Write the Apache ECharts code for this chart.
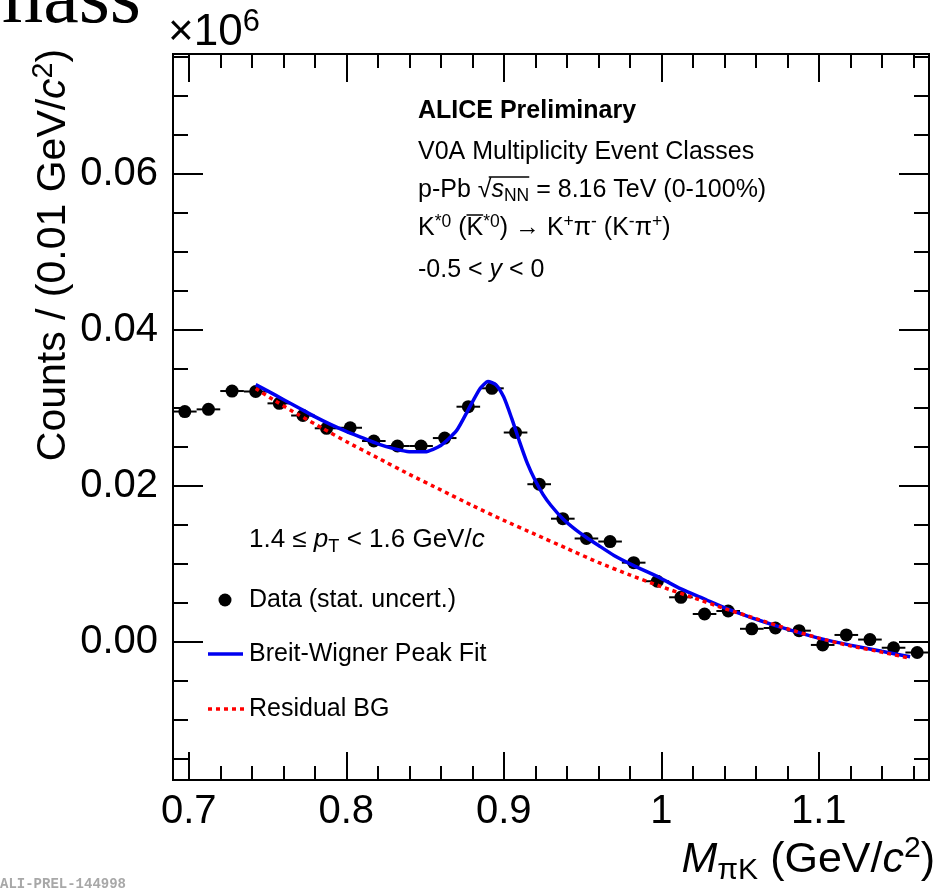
<!DOCTYPE html>
<html><head><meta charset="utf-8">
<script src="https://cdn.jsdelivr.net/npm/echarts@6/dist/echarts.min.js"></script>
<style>html,body{margin:0;padding:0;background:#fff}#c{width:941px;height:890px}</style>
</head><body><div id="c"></div>
<script>
// ---------------- data ----------------
const massCenters = [0.6975, 0.7125, 0.7275, 0.7425, 0.7575, 0.7725, 0.7875, 0.8025, 0.8175, 0.8325,
  0.8475, 0.8625, 0.8775, 0.8925, 0.9075, 0.9225, 0.9375, 0.9525, 0.9675, 0.9825,
  0.9975, 1.0125, 1.0275, 1.0425, 1.0575, 1.0725, 1.0875, 1.1025, 1.1175, 1.1325,
  1.1475, 1.1625];
const counts = [0.02955, 0.02983, 0.03218, 0.03212, 0.03060, 0.02904, 0.02740, 0.02747, 0.02577, 0.02513,
  0.02513, 0.02615, 0.03017, 0.03253, 0.02686, 0.02023, 0.01581, 0.01327, 0.01288, 0.01017,
  0.00779, 0.00573, 0.00359, 0.00397, 0.00169, 0.00179, 0.00145, -0.00038, 0.00090, 0.00031,
  -0.00074, -0.00135];
const binHalfWidth = 0.0075;

const fitMass = [0.7425, 0.750, 0.760, 0.770, 0.780, 0.790, 0.800, 0.810, 0.820, 0.830,
  0.840, 0.850, 0.860, 0.870, 0.8775, 0.885, 0.890, 0.895, 0.900, 0.905,
  0.910, 0.915, 0.920, 0.925, 0.930, 0.9375, 0.945, 0.9525, 0.960, 0.970,
  0.9825, 0.9975, 1.0125, 1.0275, 1.0425, 1.0575, 1.0725, 1.0875, 1.100, 1.120,
  1.140, 1.158];
const fitCounts = [0.0330, 0.0322, 0.0311, 0.0300, 0.0289, 0.0279, 0.0270, 0.0262, 0.0254, 0.0248,
  0.0244, 0.0244, 0.0252, 0.0271, 0.0298, 0.0325, 0.0334, 0.0330, 0.0314, 0.0287,
  0.0257, 0.0229, 0.0207, 0.0189, 0.0175, 0.0158, 0.0145, 0.0134, 0.0124, 0.0111,
  0.0098, 0.0084, 0.0068, 0.0055, 0.0042, 0.0031, 0.0021, 0.0012, 0.0005, -0.0004,
  -0.0012, -0.0019];

const bgMass = [0.7425, 0.755, 0.770, 0.785, 0.800, 0.820, 0.840, 0.860, 0.880, 0.900,
  0.920, 0.940, 0.960, 0.980, 1.000, 1.020, 1.040, 1.060, 1.080, 1.100,
  1.120, 1.140, 1.158];
const bgCounts = [0.0325, 0.0309, 0.0291, 0.0274, 0.0257, 0.0236, 0.0215, 0.0195, 0.0175, 0.0156,
  0.0138, 0.0120, 0.0102, 0.0086, 0.0071, 0.0057, 0.0043, 0.0030, 0.0017, 0.0005,
  -0.0005, -0.0013, -0.0021];

const xMajorTicks = [0.7, 0.8, 0.9, 1.0, 1.1];
const xTickLabels = ['0.7', '0.8', '0.9', '1', '1.1'];
const xMinorTicks = [0.72, 0.74, 0.76, 0.78, 0.82, 0.84, 0.86, 0.88, 0.92, 0.94, 0.96, 0.98,
  1.02, 1.04, 1.06, 1.08, 1.12, 1.14, 1.16];
const yMajorTicks = [0.00, 0.02, 0.04, 0.06];
const yTickLabels = ['0.00', '0.02', '0.04', '0.06'];
const yMinorTicks = [-0.015, -0.010, -0.005, 0.005, 0.010, 0.015, 0.025, 0.030, 0.035,
  0.045, 0.050, 0.055, 0.065, 0.070, 0.075];
const xRange = [0.69, 1.17];
const yRange = [-0.0177, 0.0754];

// ---------------- styling ----------------
const FF = "'Liberation Sans', Arial, Helvetica, sans-serif";
function lookup(ticks, labels, v) {
  for (let i = 0; i < ticks.length; i++) if (Math.abs(ticks[i] - v) < 1e-9) return labels[i];
  return '';
}
function xAx(pos, ticks, len, withLabels) {
  return {
    type: 'value', position: pos, min: xRange[0], max: xRange[1],
    axisLine: {show: false, onZero: false}, splitLine: {show: false},
    axisTick: {show: true, inside: true, length: len, customValues: ticks, lineStyle: {color: '#000', width: 2}},
    axisLabel: withLabels ? {show: true, customValues: ticks, formatter: v => lookup(xMajorTicks, xTickLabels, v),
      fontSize: 40, color: '#000', fontFamily: FF, margin: 12} : {show: false}
  };
}
function yAx(pos, ticks, len, withLabels) {
  return {
    type: 'value', position: pos, min: yRange[0], max: yRange[1],
    axisLine: {show: false, onZero: false}, splitLine: {show: false},
    axisTick: {show: true, inside: true, length: len, customValues: ticks, lineStyle: {color: '#000', width: 2}},
    axisLabel: withLabels ? {show: true, customValues: ticks, formatter: v => lookup(yMajorTicks, yTickLabels, v),
      fontSize: 40, color: '#000', fontFamily: FF, margin: 15} : {show: false}
  };
}
function rich(size) {
  return {
    a: {fontSize: size, fontFamily: FF, color: '#000', lineHeight: size * 1.2},
    b: {fontSize: size, fontFamily: FF, color: '#000', fontWeight: 'bold', lineHeight: size * 1.2},
    i: {fontSize: size, fontFamily: FF, color: '#000', fontStyle: 'italic', lineHeight: size * 1.2},
    sup: {fontSize: size * 0.7, fontFamily: FF, color: '#000', lineHeight: size * 0.7, verticalAlign: 'top'},
    sub: {fontSize: size * 0.7, fontFamily: FF, color: '#000', lineHeight: size * 0.7, verticalAlign: 'bottom'}
  };
}
function txt(x, y, text, size, extra) {
  return Object.assign({type: 'text', x: x, y: y, silent: true, z: 50,
    style: {text: text, rich: rich(size), align: 'left', verticalAlign: 'middle', fill: '#000'}}, extra || {});
}
const mctx = document.createElement('canvas').getContext('2d');
function w(str, size, style) {
  mctx.font = (style || '') + ' ' + size + 'px ' + FF;
  return mctx.measureText(str).width;
}

// header text layout
const HX = 418, HS = 25;
const hy = [111, 152, 190, 228, 270];
const sqrtStart = HX + w('p-Pb ', HS) + w('\u221A', HS) * 0.8;
const sqrtEnd = HX + w('p-Pb ', HS) + w('\u221A', HS) + w('s', HS, 'italic') + w('NN', HS * 0.7);
const kbarStart = HX + w('K', HS) + w('*0', HS * 0.7) + w(' (', HS);
const kbarEnd = kbarStart + w('K', HS);

const xTitle = txt(935, 860, '{i|M}{sub|\u03C0K}{a| (GeV/}{i|c}{sup|2}{a|)}', 43);
xTitle.style.align = 'right';
const yTitle = txt(54, 255, '{a|Counts / (0.01 GeV/}{i|c}{sup|2}{a|)}', 41, {rotation: Math.PI / 2});
yTitle.style.align = 'center';

const graphics = [
  {type: 'text', x: 141, y: 1, silent: true,
    style: {text: 'mass', font: "80px 'Liberation Serif', 'DejaVu Serif', serif", fill: '#000', align: 'right', verticalAlign: 'middle'}},
  txt(168, 33, '{a|\u00D710}{sup|6}', 44),
  {type: 'text', x: 0, y: 884, silent: true,
    style: {text: 'ALI-PREL-144998', font: "bold 14px 'Liberation Mono', 'DejaVu Sans Mono', monospace", fill: '#a8a8a8', align: 'left', verticalAlign: 'middle'}},
  txt(HX, hy[0], '{b|ALICE Preliminary}', HS),
  txt(HX, hy[1], '{a|V0A Multiplicity Event Classes}', HS),
  txt(HX, hy[2], '{a|p-Pb \u221A}{i|s}{sub|NN}{a| = 8.16 TeV (0-100%)}', HS),
  {type: 'line', silent: true, z: 50, shape: {x1: sqrtStart, y1: hy[2] - 13, x2: sqrtEnd, y2: hy[2] - 13}, style: {stroke: '#000', lineWidth: 1.5}},
  txt(HX, hy[3], '{a|K}{sup|*0}{a| (K}{sup|*0}{a|) \u2192 K}{sup|+}{a|\u03C0}{sup|-}{a| (K}{sup|-}{a|\u03C0}{sup|+}{a|)}', HS),
  {type: 'line', silent: true, z: 50, shape: {x1: kbarStart, y1: hy[3] - 13, x2: kbarEnd, y2: hy[3] - 13}, style: {stroke: '#000', lineWidth: 1.5}},
  txt(HX, hy[4], '{a|-0.5 < }{i|y}{a| < 0}', HS),
  txt(249, 540, '{a|1.4 \u2264 }{i|p}{sub|T}{a| < 1.6 GeV/}{i|c}', 26),
  {type: 'circle', silent: true, z: 50, shape: {cx: 225, cy: 600, r: 6.5}, style: {fill: '#000'}},
  txt(249, 600, '{a|Data (stat. uncert.)}', HS),
  {type: 'line', silent: true, z: 50, shape: {x1: 208, y1: 654, x2: 243, y2: 654}, style: {stroke: '#0000f0', lineWidth: 3.5}},
  txt(249, 654, '{a|Breit-Wigner Peak Fit}', HS),
  {type: 'line', silent: true, z: 50, shape: {x1: 208, y1: 709, x2: 244, y2: 709}, style: {stroke: '#ff0000', lineWidth: 3.5, lineDash: [4, 4]}},
  txt(249, 709, '{a|Residual BG}', HS),
  xTitle,
  yTitle
];

const chart = echarts.init(document.getElementById('c'), null, {renderer: 'canvas'});
chart.setOption({
  animation: false,
  backgroundColor: '#fff',
  grid: {left: 173, right: 12, top: 54, bottom: 110, show: true, borderColor: '#000', borderWidth: 2, backgroundColor: 'transparent'},
  xAxis: [xAx('bottom', xMajorTicks, 28, true), xAx('bottom', xMinorTicks, 14, false),
          xAx('top', xMajorTicks, 28, false), xAx('top', xMinorTicks, 14, false)],
  yAxis: [yAx('left', yMajorTicks, 30, true), yAx('left', yMinorTicks, 15, false),
          yAx('right', yMajorTicks, 30, false), yAx('right', yMinorTicks, 15, false)],
  series: [
    {type: 'custom', xAxisIndex: 0, yAxisIndex: 0, silent: true, z: 2,
      data: massCenters.map((m, i) => [m, counts[i]]),
      renderItem: function (params, api) {
        const x = api.value(0), y = api.value(1);
        const p1 = api.coord([x - binHalfWidth, y]);
        const p2 = api.coord([x + binHalfWidth, y]);
        return {type: 'line', shape: {x1: p1[0], y1: p1[1], x2: p2[0], y2: p2[1]}, style: {stroke: '#000', lineWidth: 2}};
      }},
    {type: 'scatter', xAxisIndex: 0, yAxisIndex: 0, silent: true, z: 3, symbol: 'circle', symbolSize: 13,
      itemStyle: {color: '#000', opacity: 1}, data: massCenters.map((m, i) => [m, counts[i]])},
    {type: 'line', xAxisIndex: 0, yAxisIndex: 0, silent: true, z: 4, smooth: 0.2, showSymbol: false, symbol: 'none',
      lineStyle: {color: '#0000f0', width: 3.5}, data: fitMass.map((m, i) => [m, fitCounts[i]])},
    {type: 'line', xAxisIndex: 0, yAxisIndex: 0, silent: true, z: 5, smooth: 0.2, showSymbol: false, symbol: 'none',
      lineStyle: {color: '#ff0000', width: 3.5, type: [4, 4]}, data: bgMass.map((m, i) => [m, bgCounts[i]])}
  ],
  graphic: graphics
});
</script></body></html>
